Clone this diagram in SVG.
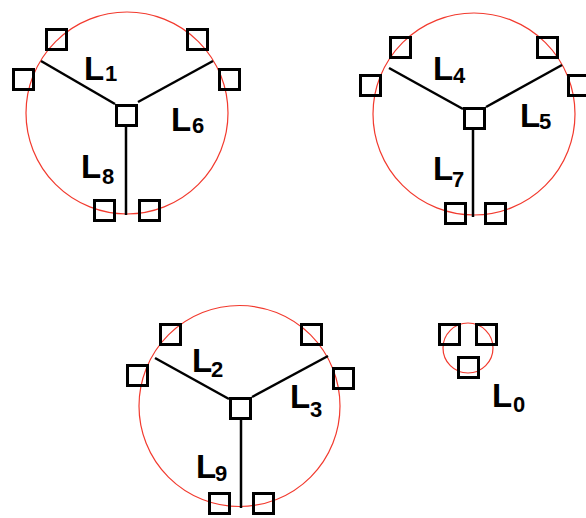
<svg xmlns="http://www.w3.org/2000/svg" width="586" height="518" viewBox="0 0 586 518">
  <style>
    .ring { fill: none; stroke: #f23a2e; stroke-width: 1.2; }
    .box { fill: none; stroke: #000; stroke-width: 3; }
    .link { stroke: #000; stroke-width: 2.5; fill: none; }
    .lbl { font-family: "Liberation Sans", Arial, sans-serif; font-weight: bold; font-size: 33px; fill: #000; }
    .sub { font-size: 22px; }
  </style>
  <defs>
    <rect id="sq" width="20" height="20"/>
  </defs>

  <rect width="586" height="518" fill="#fff"/>

  <!-- rings -->
  <g id="rings">
    <circle class="ring" cx="127" cy="113" r="101"/>
    <circle class="ring" cx="474" cy="114" r="101"/>
    <circle class="ring" cx="239.5" cy="406" r="100.5"/>
    <circle class="ring" cx="468" cy="348" r="25"/>
  </g>

  <!-- connectors -->
  <g id="connectors">
    <line class="link" x1="41" y1="61" x2="115" y2="104"/>
    <line class="link" x1="213" y1="61" x2="138" y2="102"/>
    <line class="link" x1="126" y1="127" x2="126" y2="215"/>

    <line class="link" x1="389" y1="68" x2="463" y2="109"/>
    <line class="link" x1="562" y1="65" x2="486" y2="107"/>
    <line class="link" x1="473" y1="129" x2="473" y2="217"/>

    <line class="link" x1="155" y1="358" x2="229" y2="399"/>
    <line class="link" x1="328" y1="356" x2="252" y2="397"/>
    <line class="link" x1="241" y1="420" x2="241" y2="508"/>
  </g>

  <!-- group A: L1, L6, L8 -->
  <g id="nodeA">
    <use href="#sq" class="box" x="46.5" y="29.5"/>
    <use href="#sq" class="box" x="13.5" y="69.5"/>
    <use href="#sq" class="box" x="187.5" y="29.5"/>
    <use href="#sq" class="box" x="219.5" y="69.5"/>
    <use href="#sq" class="box" x="116.5" y="105.5"/>
    <use href="#sq" class="box" x="94.5" y="200.5"/>
    <use href="#sq" class="box" x="139.5" y="200.5"/>
    <text class="lbl" x="84" y="80">L<tspan class="sub" x="105" y="81">1</tspan></text>
    <text class="lbl" x="171" y="131">L<tspan class="sub" x="192" y="133">6</tspan></text>
    <text class="lbl" x="81" y="178">L<tspan class="sub" x="102" y="184">8</tspan></text>
  </g>

  <!-- group B: L4, L5, L7 -->
  <g id="nodeB">
    <use href="#sq" class="box" x="390.5" y="37.5"/>
    <use href="#sq" class="box" x="360.5" y="75.5"/>
    <use href="#sq" class="box" x="537.5" y="37.5"/>
    <use href="#sq" class="box" x="568.5" y="75.5"/>
    <use href="#sq" class="box" x="464.5" y="108.5"/>
    <use href="#sq" class="box" x="445.5" y="203.5"/>
    <use href="#sq" class="box" x="485.5" y="203.5"/>
    <text class="lbl" x="433" y="80">L<tspan class="sub" x="453" y="83">4</tspan></text>
    <text class="lbl" x="520" y="127">L<tspan class="sub" x="539" y="129">5</tspan></text>
    <text class="lbl" x="433" y="180">L<tspan class="sub" x="452" y="187">7</tspan></text>
  </g>

  <!-- group C: L2, L3, L9 -->
  <g id="nodeC">
    <use href="#sq" class="box" x="160.5" y="324.5"/>
    <use href="#sq" class="box" x="127.5" y="365.5"/>
    <use href="#sq" class="box" x="301.5" y="324.5"/>
    <use href="#sq" class="box" x="333.5" y="368.5"/>
    <use href="#sq" class="box" x="230.5" y="398.5"/>
    <use href="#sq" class="box" x="209.5" y="493.5"/>
    <use href="#sq" class="box" x="253.5" y="493.5"/>
    <text class="lbl" x="192" y="372">L<tspan class="sub" x="211" y="377">2</tspan></text>
    <text class="lbl" x="290" y="408">L<tspan class="sub" x="310" y="417">3</tspan></text>
    <text class="lbl" x="196" y="478">L<tspan class="sub" x="215" y="481">9</tspan></text>
  </g>

  <!-- group D: L0 -->
  <g id="nodeD">
    <use href="#sq" class="box" x="439.5" y="324.5"/>
    <use href="#sq" class="box" x="476.5" y="324.5"/>
    <use href="#sq" class="box" x="458.5" y="357.5"/>
    <text class="lbl" x="492" y="407">L<tspan class="sub" x="513" y="412">0</tspan></text>
  </g>
</svg>
